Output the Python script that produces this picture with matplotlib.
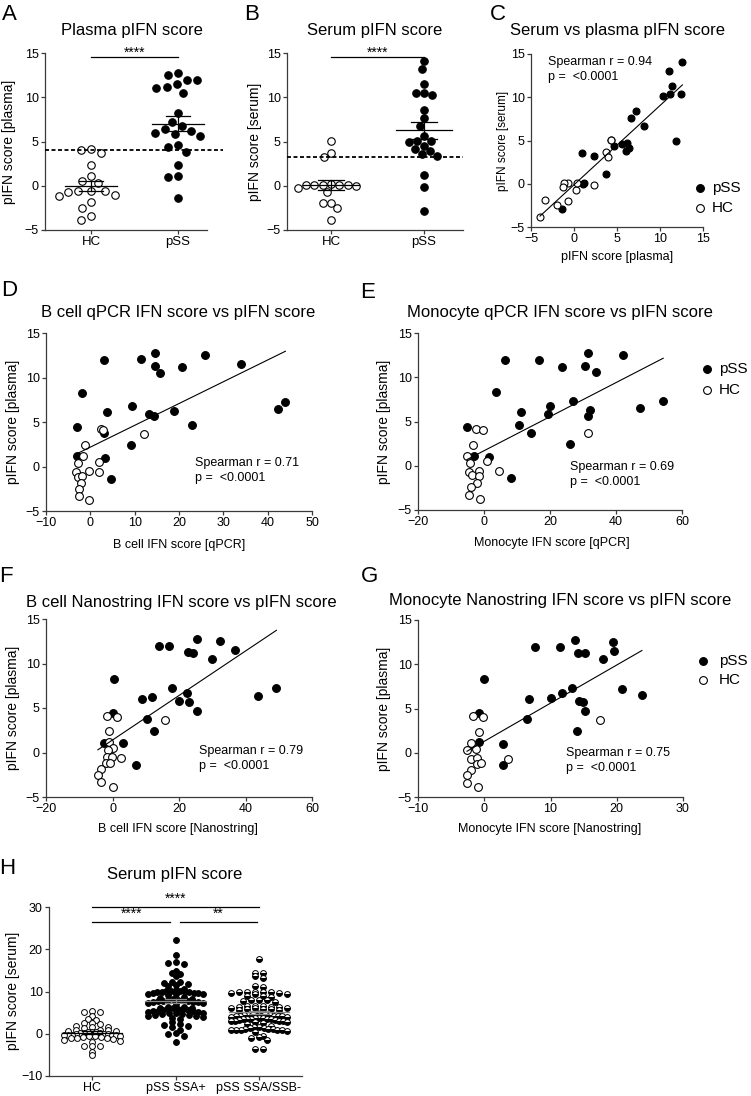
import numpy as np
import matplotlib
matplotlib.use("Agg")
import matplotlib.pyplot as plt
from matplotlib.lines import Line2D

plt.rcParams['font.family'] = ['Liberation Sans', 'DejaVu Sans']

# ---- data ----
# A: plasma pIFN score
plasma_pss = [12.7, 12.5, 12.0, 11.9, 11.5, 11.2, 11.1, 10.5, 8.2, 7.2, 6.7, 6.4,
              6.2, 6.0, 5.8, 5.6, 4.6, 4.4, 3.8, 2.4, 1.1, 1.0, -1.4]
plasma_hc = [4.1, 4.0, 3.65, 2.4, 1.15, 0.5, 0.3, -0.55, -0.6, -0.6, -0.65,
             -1.1, -1.2, -1.85, -2.5, -3.4, -3.85]
plasma_cutoff = 4.0

# B: serum pIFN score
serum_pss = [14.1, 13.2, 11.5, 10.5, 10.2, 10.5, 8.6, 7.6, 6.8, 5.6, 5.1, 5.1,
             5.0, 4.5, 4.2, 3.9, 3.4, 3.6, 1.2, -0.1, -2.85]
serum_hc = [5.1, 3.65, 3.2, 0.15, 0.1, 0.1, 0.0, 0.1, 0.1, 0.05, -0.3, -0.7,
            -1.95, -1.9, -2.5, -3.85]
serum_cutoff = 3.2

# C: serum vs plasma
c_pss_x = [12.6, 11.05, 11.4, 10.36, 11.2, 12.4, 7.19, 6.68, 8.15, 11.9, 4.36,
           4.63, 5.56, 6.2, 5.99, 6.4, 0.96, 2.35, 3.7, 1.0, 1.19, -1.44]
c_pss_y = [14.03, 13.07, 11.33, 10.09, 10.4, 10.4, 8.42, 7.57, 6.72, 4.94, 5.06,
           4.4, 4.6, 4.75, 3.82, 4.1, 3.51, 3.24, 1.11, 0.0, 0.03, -2.87]
c_hc_x = [4.25, 3.7, 3.97, 2.35, 0.22, -0.67, -1.13, -1.25, 0.3, -3.37, -1.94,
          -0.67, -3.95]
c_hc_y = [5.06, 3.63, 3.12, -0.09, -0.74, 0.03, 0.1, -0.36, 0.03, -1.9, -2.48,
          -2.02, -3.84]

# D: B cell qPCR IFN score vs plasma pIFN
d_pss_x = [14.6, 25.8, 11.5, 3.0, 34.05, 14.6, 20.6, 15.75, -1.94, 44.0, 9.35,
           42.3, 18.8, 3.86, 13.3, 14.25, 22.9, -3.07, 3.0, 9.2, -2.9, 3.2, 4.6]
d_pss_y = [12.74, 12.56, 12.07, 12.0, 11.54, 11.24, 11.17, 10.49, 8.23, 7.22,
           6.8, 6.47, 6.28, 6.09, 5.86, 5.68, 4.66, 4.47, 3.8, 2.4, 1.17, 0.98, -1.35]
d_hc_x = [2.4, 2.8, 12.0, -1.2, -1.57, -2.85, 2.0, -3.2, -0.2, 2.0, -2.85, -1.8,
          -2.1, -2.55, -2.55, -0.2]
d_hc_y = [4.17, 4.05, 3.65, 2.4, 1.2, 0.34, 0.53, -0.6, -0.53, -0.6, -1.17, -1.1,
          -1.84, -2.48, -3.35, -3.8]

# E: monocyte qPCR IFN score vs plasma pIFN
e_pss_x = [31.6, 42.0, 6.4, 16.7, 23.5, 30.6, 33.9, 3.7, 54.3, 27.05, 20.0, 47.4,
           32.1, 11.1, 19.5, 31.6, 10.6, -5.2, 14.15, 26.0, -2.9, 1.56, 8.3]
e_pss_y = [12.74, 12.55, 11.98, 11.98, 11.15, 11.3, 10.55, 8.28, 7.26, 7.34, 6.77,
           6.47, 6.32, 6.06, 5.87, 5.64, 4.66, 4.43, 3.75, 2.43, 1.11, 0.96, -1.34]
e_hc_x = [-2.37, -0.35, -3.2, -5.2, -4.2, 0.86, -4.5, -1.46, 4.4, -3.5, -1.66,
          -2.2, -3.9, -4.5, -1.2, 31.6]
e_hc_y = [4.13, 4.06, 2.36, 1.11, 0.28, 0.55, -0.66, -0.58, -0.58, -1.04, -1.15,
          -1.9, -2.43, -3.3, -3.8, 3.68]

# F: B cell Nanostring IFN score vs plasma pIFN
f_pss_x = [25.4, 32.2, 13.9, 17.1, 36.7, 22.7, 24.2, 29.9, 0.58, 49.3, 18.0, 22.4,
           43.7, 11.8, 9.0, 20.0, 23.0, 25.4, 0.0, 10.3, 12.5, -2.5, 3.1, 7.0]
f_pss_y = [12.74, 12.56, 11.92, 11.99, 11.47, 11.24, 11.17, 10.49, 8.23, 7.22,
           7.29, 6.73, 6.39, 6.24, 6.02, 5.83, 5.64, 4.66, 4.4, 3.76, 2.41, 1.09,
           1.02, -1.35]
f_hc_x = [-1.73, 1.5, -1.2, 15.8, -1.0, 0.0, -1.5, -1.7, -0.2, 2.6, -1.9, -0.7,
          -3.4, -4.4, -3.4, 0.08]
f_hc_y = [4.1, 4.02, 2.41, 3.65, 1.13, 0.53, 0.26, -0.56, -0.56, -0.6, -1.17,
          -1.13, -1.8, -2.48, -3.35, -3.87]

# G: monocyte Nanostring IFN score vs plasma pIFN
g_pss_x = [13.7, 19.5, 7.67, 11.5, 14.2, 15.2, 19.6, 17.85, 0.0, 20.8, 13.3, 11.8,
           23.8, 10.0, 6.76, 14.3, 14.9, 15.2, -0.77, 6.5, 14.0, -0.77, 2.8, 2.9]
g_pss_y = [12.74, 12.56, 11.99, 11.99, 11.24, 11.32, 11.54, 10.56, 8.3, 7.22,
           7.29, 6.8, 6.47, 6.24, 6.02, 5.86, 5.71, 4.7, 4.47, 3.8, 2.44, 1.17,
           1.02, -1.35]
g_hc_x = [-1.77, -0.26, -0.77, 17.45, -1.97, -2.6, -1.2, -1.97, -1.1, 3.65, -1.1,
          -0.46, -1.97, -2.6, -2.6, -1.0]
g_hc_y = [4.1, 4.02, 2.33, 3.7, 1.1, 0.26, 0.45, -0.68, -0.6, -0.68, -1.24,
          -1.17, -1.92, -2.48, -3.42, -3.87]

# H: serum pIFN score, large cohort
h_hc = [5.3, 5.2, 5.1, 4.1, 3.4, 3.2, 2.6, 2.5, 2.3, 1.9, 1.7, 1.5, 1.4,
        1.0, 0.9, 0.8, 0.7, 0.6, 0.5, 0.4, 0.3, 0.2, 0.2, 0.1, 0.0, 0.0, -0.1,
        -0.2, -0.2, -0.3, -0.4, -0.4, -0.5, -0.6, -0.6, -0.7, -0.8, -0.9, -1.0,
        -1.1, -1.2, -1.4, -1.6, -1.9, -2.8, -2.9, -3.0, -4.4, -5.1]
h_ssa = [22.3, 18.6, 16.9, 16.8, 16.4, 14.9, 14.4, 14.1, 13.6, 12.3, 12.2, 12.1,
         11.7, 11.5, 11.4,
         10.5, 10.3, 10.2, 10.2, 10.0, 9.9, 9.8, 9.7, 9.7, 9.5, 9.4, 9.3, 9.2,
         10.1, 9.9, 9.6,
         8.6, 8.4, 8.3, 8.2, 8.0, 7.9, 7.8, 7.7, 7.6, 7.5, 7.3, 7.2, 7.0, 8.1,
         7.8, 7.4,
         6.4, 6.3, 6.1, 6.0, 5.9, 5.8, 5.7, 5.6, 5.5, 5.3, 5.2, 5.1, 5.0, 4.9,
         4.8, 4.6, 4.5, 4.4, 4.2, 4.1, 3.9, 3.8, 3.6, 5.4, 4.7, 5.9, 6.2,
         2.7, 2.2, 2.0, 1.8, 1.5, 0.9, 0.2, -0.1, -0.5, -2.0]
h_neg = [17.8, 14.4, 14.3, 13.6, 13.2, 11.3, 11.0,
         10.0, 10.0, 9.9, 9.8, 9.8, 9.7, 9.6, 9.5, 9.3, 8.9, 8.9, 8.7,
         8.1, 8.0, 7.9, 7.7, 7.6,
         6.6, 6.6, 6.5, 6.4, 6.3, 6.3, 6.2, 6.1, 6.0, 5.9, 5.9, 5.8, 5.7, 5.6,
         4.9, 4.8, 4.7, 4.6, 4.5, 4.4, 4.4, 4.3, 4.3, 4.2, 4.1, 4.1, 4.0,
         3.9, 3.8, 3.8, 3.7, 3.6, 3.6, 3.5, 3.5, 3.4, 3.3, 3.2, 3.1, 3.1, 3.0,
         2.9, 2.8, 2.7, 2.6, 2.2, 1.9, 1.6, 1.5,
         1.4, 1.3, 1.2, 1.2, 1.1, 1.0, 1.0, 0.9, 0.9, 0.8, 0.7, 0.5,
         -0.5, -0.8, -1.1, -1.5, -3.5, -3.5]
h_groups = ['HC', 'pSS SSA+', 'pSS SSA/SSB-']

# ---- layout helpers (pixel coordinates of the 751x1096 canvas) ----
W, H = 751, 1096
fig = plt.figure(figsize=(W / 100, H / 100), dpi=100)
AXC = '#3a3a3a'


def rect(x0, y0, x1, y1):
    return [x0 / W, 1 - y1 / H, (x1 - x0) / W, (y1 - y0) / H]


def ftext(x, y, s, **kw):
    kw.setdefault('ha', 'center')
    kw.setdefault('va', 'center')
    fig.text(x / W, 1 - y / H, s, **kw)


def style(ax, labelsize=9):
    for s in ('top', 'right'):
        ax.spines[s].set_visible(False)
    for s in ('left', 'bottom'):
        ax.spines[s].set_color(AXC)
        ax.spines[s].set_linewidth(0.9)
    ax.tick_params(direction='out', length=3, width=0.9, color=AXC,
                   labelsize=labelsize, pad=1.5)


def beeswarm(values, d, xpx, ypx):
    # place points (highest first) at the free spot nearest the column centre
    v = np.asarray(values, float)
    ys = v * ypx
    placed = []
    off = np.zeros_like(v)
    for i in np.argsort(-v, kind='stable'):
        y = ys[i]
        cands = [0.0]
        for px_, py_ in placed:
            dy = abs(py_ - y)
            if dy < d:
                dx = np.sqrt(d * d - dy * dy)
                cands += [px_ - dx, px_ + dx]
        for c in sorted(cands, key=lambda t: (abs(t), t)):
            if all((c - px_) ** 2 + (y - py_) ** 2 >= d * d - 1e-6
                   for px_, py_ in placed):
                break
        placed.append((c, y))
        off[i] = c / xpx
    return off


def swarm(values, bin_w, step, max_half):
    # column scatter offsets: points in the same value bin sit side by side
    v = np.asarray(values, float)
    keys = np.round(v / bin_w)
    off = np.zeros_like(v)
    for k in np.unique(keys):
        idx = np.where(keys == k)[0]
        idx = idx[np.argsort(-v[idx], kind='stable')]
        n = len(idx)
        s = step if n < 2 else min(step, 2 * max_half / (n - 1))
        slots = sorted(range(n), key=lambda i: abs(i - (n - 1) / 2))
        for j, i in enumerate(idx):
            off[i] = (slots[j] - (n - 1) / 2) * s
    return off


def mean_sem(ax, x, vals, half_mean, half_cap, color='black', lw=0.9):
    vals = np.asarray(vals)
    m = vals.mean()
    se = vals.std(ddof=1) / np.sqrt(len(vals))
    ax.plot([x - half_mean, x + half_mean], [m, m], color=color, lw=lw, zorder=5)
    ax.plot([x, x], [m - se, m + se], color=color, lw=lw, zorder=5)
    for yy in (m - se, m + se):
        ax.plot([x - half_cap, x + half_cap], [yy, yy], color=color, lw=lw, zorder=5)


def dot_panel(box, hc, pss, cutoff, xlim, dash_end, ylabel, ylx, gap):
    ax = fig.add_axes(rect(*box))
    style(ax)
    xpx = (box[2] - box[0]) / (xlim[1] - xlim[0])
    ypx = (box[3] - box[1]) / 20.0
    for x, vals, filled in ((0, hc, False), (1, pss, True)):
        off = beeswarm(vals, gap, xpx, ypx)
        ax.plot(x + off, vals, 'o', ms=5.4, mew=0.8, mec='black',
                mfc='black' if filled else 'white', zorder=3, clip_on=False)
        mean_sem(ax, x, vals, 0.3, 0.14)
    ax.plot([xlim[0], dash_end], [cutoff, cutoff], color='black', lw=1.3,
            dashes=(2.2, 1.4), clip_on=False, zorder=4)
    ax.plot([0, 1], [14.6, 14.6], color='black', lw=0.9, clip_on=False)
    ax.text(0.5, 15.05, '****', ha='center', va='center', fontsize=10, clip_on=False)
    ax.set_xlim(*xlim)
    ax.set_ylim(-5, 15)
    ax.set_yticks([-5, 0, 5, 10, 15])
    ax.set_xticks([0, 1], ['HC', 'pSS'])
    ax.tick_params(axis='x', labelsize=9.5)
    ftext(ylx, (box[1] + box[3]) / 2, ylabel, rotation=90, fontsize=10)
    return ax


def scatter_panel(box, pss_x, pss_y, hc_x, hc_y, xlim, xticks, ylabel, ylx,
                  ylsize=10, ms=5.6):
    ax = fig.add_axes(rect(*box))
    style(ax)
    ax.plot(pss_x, pss_y, 'o', ms=ms, mfc='black', mec='black', mew=0.8,
            zorder=3, clip_on=False)
    ax.plot(hc_x, hc_y, 'o', ms=ms, mfc='white', mec='black', mew=0.8,
            zorder=3, clip_on=False)
    xs = np.r_[pss_x, hc_x]
    ys = np.r_[pss_y, hc_y]
    k, b = np.polyfit(xs, ys, 1)
    xx = np.array([xs.min(), xs.max()])
    ax.plot(xx, k * xx + b, color='black', lw=0.8, zorder=4)
    ax.set_xlim(*xlim)
    ax.set_ylim(-5, 15)
    ax.set_xticks(xticks)
    ax.set_yticks([-5, 0, 5, 10, 15])
    ftext(ylx, (box[1] + box[3]) / 2, ylabel, rotation=90, fontsize=ylsize)
    return ax


def legend(x, y1, y2, tx, size=11):
    for yy, filled, lab in ((y1, True, 'pSS'), (y2, False, 'HC')):
        fig.add_artist(Line2D([x / W], [1 - yy / H], transform=fig.transFigure,
                              marker='o', ms=5.6, mew=0.8, mec='black',
                              mfc='black' if filled else 'white', ls='none'))
        ftext(tx, yy, lab, ha='left', fontsize=size)


def spearman(x, y, r):
    ftext(x, y, f'Spearman r = {r}', ha='left', fontsize=9)
    ftext(x, y + 15, 'p =  <0.0001', ha='left', fontsize=9)


# ---- A ----
dot_panel((45, 53, 207, 230), plasma_hc, plasma_pss, plasma_cutoff,
          (-0.529, 1.333), 1.517, 'pIFN score [plasma]', 9, 10.5)
ftext(132, 31, 'Plasma pIFN score', fontsize=12)

# ---- B ----
dot_panel((287, 53, 463, 230), serum_hc, serum_pss, serum_cutoff,
          (-0.473, 1.419), 1.419, 'pIFN score [serum]', 255, 8.3)
ftext(375, 31, 'Serum pIFN score', fontsize=12)

# ---- C ----
scatter_panel((531, 54, 703, 227), c_pss_x, c_pss_y, c_hc_x, c_hc_y,
              (-5, 15), [-5, 0, 5, 10, 15], 'pIFN score [serum]', 503,
              ylsize=8.5, ms=5.0)
ftext(617, 30, 'Serum vs plasma pIFN score', fontsize=12)
ftext(617, 257, 'pIFN score [plasma]', fontsize=9)
spearman(548, 62, 0.94)
legend(700, 188, 208, 712)

# ---- D ----
scatter_panel((46, 333, 312, 511), d_pss_x, d_pss_y, d_hc_x, d_hc_y,
              (-10, 50), [-10, 0, 10, 20, 30, 40, 50], 'pIFN score [plasma]', 13)
ftext(178, 313, 'B cell qPCR IFN score vs pIFN score', fontsize=12)
ftext(179, 545, 'B cell IFN score [qPCR]', fontsize=9)
spearman(195, 463, 0.71)

# ---- E ----
scatter_panel((418, 333, 682, 510), e_pss_x, e_pss_y, e_hc_x, e_hc_y,
              (-20, 60), [-20, 0, 20, 40, 60], 'pIFN score [plasma]', 384)
ftext(560, 313, 'Monocyte qPCR IFN score vs pIFN score', fontsize=12)
ftext(552, 543, 'Monocyte IFN score [qPCR]', fontsize=9)
spearman(570, 467, 0.69)
legend(707, 369, 390, 719)

# ---- F ----
scatter_panel((46, 619, 312, 797), f_pss_x, f_pss_y, f_hc_x, f_hc_y,
              (-20, 60), [-20, 0, 20, 40, 60], 'pIFN score [plasma]', 13)
ftext(181, 602, 'B cell Nanostring IFN score vs pIFN score', fontsize=12)
ftext(178, 829, 'B cell IFN score [Nanostring]', fontsize=9)
spearman(199, 751, 0.79)

# ---- G ----
scatter_panel((418, 620, 683, 797), g_pss_x, g_pss_y, g_hc_x, g_hc_y,
              (-10, 30), [-10, 0, 10, 20, 30], 'pIFN score [plasma]', 384)
ftext(560, 600, 'Monocyte Nanostring IFN score vs pIFN score', fontsize=12)
ftext(550, 829, 'Monocyte IFN score [Nanostring]', fontsize=9)
spearman(566, 753, 0.75)
legend(703, 661, 680, 719)

# ---- H ----
hbox = (49, 907, 302, 1076)
axh = fig.add_axes(rect(*hbox))
style(axh)
hxlim = (-0.515, 2.515)
hunit = (hbox[2] - hbox[0]) / (hxlim[1] - hxlim[0])
h_styles = [dict(mfc='white', mec='black'),
            dict(mfc='black', mec='black'),
            dict(mfc='black', mec='black', fillstyle='bottom', mfcalt='white')]
for i, vals in enumerate((h_hc, h_ssa, h_neg)):
    off = swarm(vals, 1.1, 8.0 / hunit, 0.33)
    axh.plot(i + off, vals, 'o', ms=4.2, mew=0.7, ls='none', zorder=3,
             clip_on=False, **h_styles[i])
    mean_sem(axh, i, vals, 0.36, 0.12, color='black' if i == 0 else '#8a8a8a',
             lw=0.9)
axh.set_xlim(*hxlim)
axh.set_ylim(-10, 30)
axh.set_yticks([-10, 0, 10, 20, 30])
axh.set_xticks([0, 1, 2], h_groups)
axh.tick_params(axis='x', labelsize=9)
axh.plot([0, 2], [30, 30], color='black', lw=0.9, clip_on=False)
axh.plot([0, 0.93], [26.5, 26.5], color='black', lw=0.9, clip_on=False)
axh.plot([1.05, 1.98], [26.5, 26.5], color='black', lw=0.9, clip_on=False)
axh.text(1.0, 31.9, '****', ha='center', va='center', fontsize=10, clip_on=False)
axh.text(0.47, 28.3, '****', ha='center', va='center', fontsize=10, clip_on=False)
axh.text(1.51, 28.3, '**', ha='center', va='center', fontsize=10, clip_on=False)
ftext(175, 874, 'Serum pIFN score', fontsize=12)
ftext(13, 991, 'pIFN score [serum]', rotation=90, fontsize=10)

# ---- panel letters ----
for letter, px, py in (('A', 9, 14), ('B', 252, 14), ('C', 498, 14),
                       ('D', 9, 291), ('E', 368, 293), ('F', 6, 577),
                       ('G', 370, 577), ('H', 7, 868)):
    ftext(px, py, letter, fontsize=16)

fig.savefig('out.png', dpi=100)
